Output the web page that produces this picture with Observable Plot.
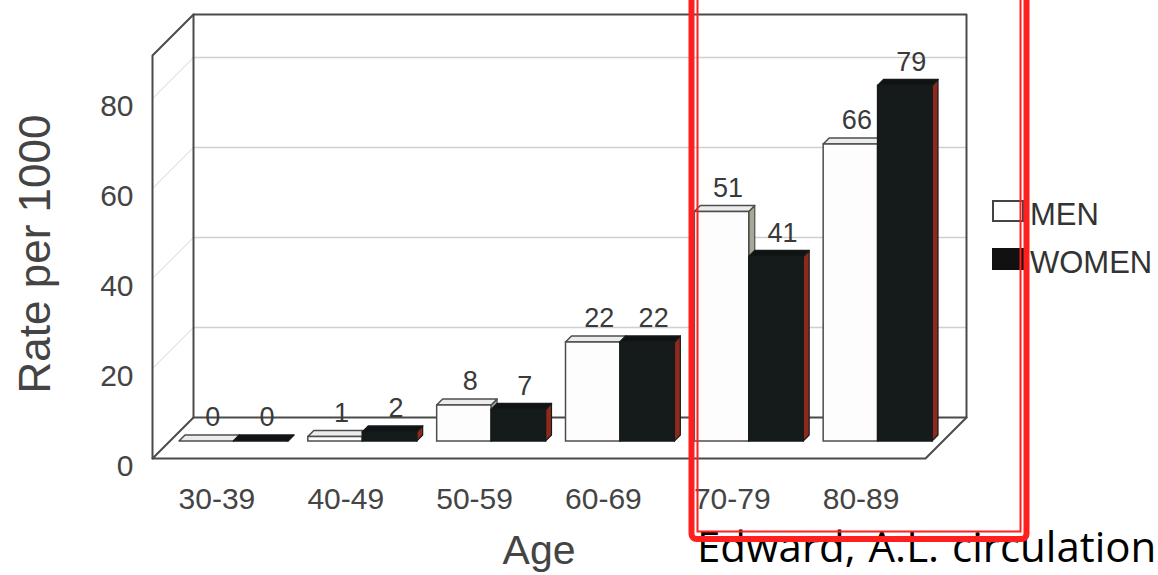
<!DOCTYPE html>
<html>
<head>
<meta charset="utf-8">
<script src="https://cdn.jsdelivr.net/npm/d3@7"></script>
<script src="https://cdn.jsdelivr.net/npm/@observablehq/plot@0.6"></script>
<style>
  html, body { margin: 0; padding: 0; background: #fff; }
  #wrap { position: relative; width: 1158px; height: 575px; overflow: hidden; background: #fff;
          font-family: "Liberation Sans", Arial, sans-serif; }
  #chart { position: absolute; left: 0; top: 0; }
  #legend { position: absolute; left: 0; top: 0; width: 1158px; height: 575px; pointer-events: none; }
  .swatch { position: absolute; box-sizing: border-box; }
  .legend-label { position: absolute; font-size: 31px; color: #333; line-height: 1; white-space: nowrap; }
  #overlay { position: absolute; left: 0; top: 0; }
</style>
</head>
<body>
<div id="wrap">
  <div id="chart"></div>
  <div id="legend"></div>
  <svg id="overlay" width="1158" height="575"></svg>
</div>
<script>
// Incidence rate per 1000 by age group
const categories = ["30-39", "40-49", "50-59", "60-69", "70-79", "80-89"];
const menRates   = [0, 1, 8, 22, 51, 66];
const womenRates = [0, 2, 7, 22, 41, 79];
const series = ["MEN", "WOMEN"];
const rateTicks = [0, 20, 40, 60, 80];
const captionText = "Edward, A.L. circulation";

// Layout of the pseudo-3D box
const W = 1158, H = 575;
const M = {top: 55, right: 233, bottom: 117, left: 152};
const PX_PER_RATE = 4.5;
const yMax = (H - M.top - M.bottom) / PX_PER_RATE;
const n = categories.length;
const pxPerGroup = (W - M.left - M.right) / n;

const WALL = 41;       // depth of the back wall, px
const BAR_FRONT = 17;  // depth of the bars' front faces, px
const BAR_DEPTH = 6;   // thickness of each bar, px
const BAR_GAP = 10;    // space at each side of a pair of bars, px

// Oblique projection: (group position, rate, depth in px) -> plot data space
const P = (g, r, depth) => ({x: g + depth / pxPerGroup, y: r + depth / PX_PER_RATE});

// Box outline: back wall, floor, left wall
const outline = [
  [[0, 0, WALL], [0, yMax, WALL], [n, yMax, WALL], [n, 0, WALL], [0, 0, WALL]],
  [[0, 0, WALL], [0, 0, 0], [n, 0, 0], [n, 0, WALL]],
  [[0, 0, 0], [0, yMax, 0], [0, yMax, WALL]]
].flatMap((pts, k) => pts.map(p => ({...P(...p), k})));

const gridValues = rateTicks.filter(v => v > 0);
const backGrid = gridValues.flatMap(v => [{...P(0, v, WALL), k: v}, {...P(n, v, WALL), k: v}]);
const sideGrid = gridValues.flatMap(v => [{...P(0, v, 0), k: v}, {...P(0, v, WALL), k: v}]);

// One record per bar
const gap = BAR_GAP / pxPerGroup;
const bars = series.flatMap((s, si) => categories.map((c, i) => {
  const v = (si === 0 ? menRates : womenRates)[i];
  const xl = si === 0 ? i + gap : i + 0.5;
  const xr = si === 0 ? i + 0.5 : i + 1 - gap;
  return {s, c, v, xl, xr, id: s + c};
}));

const F = BAR_FRONT, B = BAR_FRONT + BAR_DEPTH;
const fronts = bars.map(d => ({
  ...d,
  x1: P(d.xl, 0, F).x, x2: P(d.xr, 0, F).x,
  y1: P(0, 0, F).y, y2: P(0, d.v, F).y
}));
const tops = bars.flatMap(d => {
  const yf = P(0, d.v, F).y, yb = P(0, d.v, B).y;
  return [
    {id: d.id, s: d.s, x: P(d.xl, 0, F).x, y1: yf, y2: yf},
    {id: d.id, s: d.s, x: P(d.xl, 0, B).x, y1: yf, y2: yb},
    {id: d.id, s: d.s, x: P(d.xr, 0, F).x, y1: yf, y2: yb},
    {id: d.id, s: d.s, x: P(d.xr, 0, B).x, y1: yb, y2: yb}
  ];
});
const sides = bars.flatMap(d => [
  {id: d.id, s: d.s, x: P(d.xr, 0, F).x, y1: P(0, 0, F).y, y2: P(0, d.v, F).y},
  {id: d.id, s: d.s, x: P(d.xr, 0, B).x, y1: P(0, 0, B).y, y2: P(0, d.v, B).y}
]);

const style = {
  MEN:   {front: "#fdfdfd", top: "#ececec", side: "#a9a894", stroke: "#4d4d4d"},
  WOMEN: {front: "#151a1b", top: "#101314", side: "#8e2a1d", stroke: "#151a1b"}
};

const barMarks = series.flatMap(s => {
  const st = style[s];
  const only = arr => arr.filter(d => d.s === s);
  return [
    Plot.areaY(only(sides), {x: "x", y1: "y1", y2: "y2", z: "id", fill: st.side, stroke: st.stroke, strokeWidth: 1.2}),
    Plot.areaY(only(tops), {x: "x", y1: "y1", y2: "y2", z: "id", fill: st.top, stroke: st.stroke, strokeWidth: 1.5}),
    Plot.rect(only(fronts), {x1: "x1", x2: "x2", y1: "y1", y2: "y2", fill: st.front, stroke: st.stroke, strokeWidth: 1.5})
  ];
});

const chart = Plot.plot({
  width: W,
  height: H,
  marginTop: M.top, marginRight: M.right, marginBottom: M.bottom, marginLeft: M.left,
  style: {fontFamily: "'Liberation Sans', Arial, sans-serif", color: "#444", background: "transparent", overflow: "visible"},
  x: {domain: [0, n]},
  y: {domain: [0, yMax]},
  marks: [
    Plot.line(sideGrid, {x: "x", y: "y", z: "k", stroke: "#e4e4e4", strokeWidth: 1.2}),
    Plot.line(backGrid, {x: "x", y: "y", z: "k", stroke: "#cfcfcf", strokeWidth: 1.5}),
    Plot.line(outline, {x: "x", y: "y", z: "k", stroke: "#4a4a4a", strokeWidth: 2}),
    ...barMarks,
    Plot.text(fronts, {
      x: d => (d.x1 + d.x2) / 2, y: "y2", text: d => String(d.v),
      dx: 6, dy: -24, fontSize: 27, fill: "#3a3a3a"
    }),
    Plot.axisX(categories.map((_, i) => i + 0.5), {
      tickFormat: d => categories[Math.floor(d)], tickSize: 0, tickPadding: 29,
      fontSize: 30, label: null, fill: "#444"
    }),
    Plot.axisY(rateTicks, {tickSize: 0, tickPadding: 19, dy: 8, fontSize: 30, label: null, fill: "#444"}),
    Plot.text(["Rate per 1000"], {
      frameAnchor: "left", textAnchor: "middle", lineAnchor: "middle", rotate: -90,
      dx: -117, dy: -3, fontSize: 44, fill: "#444"
    }),
    Plot.text(["Age"], {frameAnchor: "bottom", lineAnchor: "middle", dy: 92, fontSize: 41, fill: "#444"})
  ]
});
document.getElementById("chart").appendChild(chart);

// Legend
const legend = document.getElementById("legend");
const swatchStyles = [
  {top: 200, background: "#fff", border: "2px solid #444"},
  {top: 248, background: "#111", border: "2px solid #111"}
];
series.forEach((s, i) => {
  const sw = document.createElement("div");
  sw.className = "swatch";
  Object.assign(sw.style, {left: "992px", top: swatchStyles[i].top + "px", width: "32px", height: "22px",
    background: swatchStyles[i].background, border: swatchStyles[i].border});
  legend.appendChild(sw);
  const lb = document.createElement("div");
  lb.className = "legend-label";
  lb.textContent = s;
  Object.assign(lb.style, {left: "1030px", top: (swatchStyles[i].top - 1) + "px"});
  legend.appendChild(lb);
});

// Caption and highlight box
const ov = d3.select("#overlay");
ov.append("text")
  .attr("x", 697).attr("y", 562)
  .attr("font-family", "'Open Sans', sans-serif").attr("font-size", 42).attr("word-spacing", 2)
  .attr("fill", "#000")
  .text(captionText);
ov.append("rect")
  .attr("x", 691.5).attr("y", -20).attr("width", 335).attr("height", 559).attr("rx", 5)
  .attr("fill", "none").attr("stroke", "#ff1f1f").attr("stroke-width", 6);
ov.append("rect")
  .attr("x", 697.5).attr("y", -20).attr("width", 323).attr("height", 551.5)
  .attr("fill", "none").attr("stroke", "#ff1f1f").attr("stroke-width", 2);
</script>
</body>
</html>
